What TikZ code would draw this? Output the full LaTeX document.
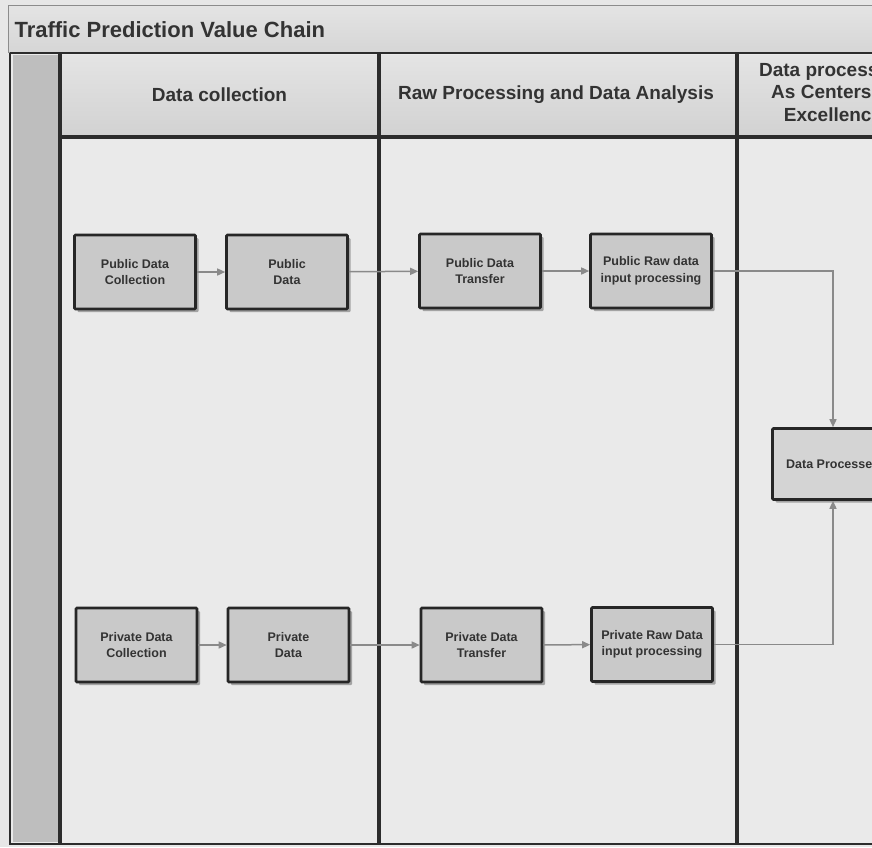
\documentclass[tikz,border=0pt]{standalone}
\usepackage{fontspec}
\setmainfont{Liberation Sans}
\usetikzlibrary{arrows.meta,shadows}

\definecolor{paper}{HTML}{E7E7E7}
\definecolor{lanebody}{HTML}{EAEAEA}
\definecolor{headtop}{HTML}{E4E4E4}
\definecolor{headbot}{HTML}{D2D2D2}
\definecolor{strip}{HTML}{BEBEBE}
\definecolor{rule}{HTML}{2C2C2C}
\definecolor{boxfill}{HTML}{C9C9C9}
\definecolor{boxline}{HTML}{262626}
\definecolor{flow}{HTML}{8A8A8A}
\definecolor{txt}{HTML}{333333}

\tikzset{
  stepbox/.style={draw=boxline, line width=2.6pt, fill=boxfill,
    minimum width=121pt, minimum height=74pt, inner sep=2pt,
    rounded corners=1pt, align=center, text=txt,
    font=\fontsize{12.5}{16.5}\selectfont\bfseries,
    drop shadow={shadow xshift=3pt, shadow yshift=-3pt, opacity=0.3, fill=black}},
  flowline/.style={draw=flow, line width=1.5pt,
    -{Triangle[length=8pt,width=7pt,fill=flow]}},
  laneline/.style={draw=rule, line width=3.5pt},
  headtext/.style={text=txt, align=center,
    font=\fontsize{19}{22.5}\selectfont\bfseries}
}

\begin{document}
\begin{tikzpicture}[x=1pt,y=-1pt]
\useasboundingbox (0,0) rectangle (872,847);
\clip (0,0) rectangle (872,847);
\fill[paper] (0,0) rectangle (872,847);

% pool title bar
\shade[top color=headtop, bottom color=headbot!80!headtop, draw=black!45, line width=1pt]
  (8,5) rectangle (890,52);
\node[anchor=west, text=txt, font=\fontsize{22}{26}\selectfont\bfseries] (title) at (11,30)
  {Traffic Prediction Value Chain};

% pool body and lane strip
\fill[lanebody] (10,53) rectangle (890,844);
\fill[strip] (13,55) rectangle (58,842);
\draw[rule, line width=2pt] (10,53) -- (10,844) -- (890,844);
\draw[rule, line width=2pt] (10,53) -- (890,53);

% phase headers
\shade[top color=headtop, bottom color=headbot] (62,55) rectangle (377,135);
\shade[top color=headtop, bottom color=headbot] (381,55) rectangle (735,135);
\shade[top color=headtop, bottom color=headbot] (739,55) rectangle (890,135);

\node[headtext] (h1) at (219.5,95) {Data collection};
\node[headtext] (h2) at (556,95) {Raw Processing and Data Analysis};
\node[headtext] (h3) at (833,92) {Data processing\\As Centers of\\Excellence};

% lane separators
\draw[laneline] (60,53) -- (60,844);
\draw[laneline] (379,53) -- (379,844);
\draw[laneline] (737,53) -- (737,844);
\draw[laneline] (58,137) -- (890,137);

% public chain
\node[stepbox] (pdc) at (135,272) {Public Data\\Collection};
\node[stepbox] (pd) at (287,272) {Public\\Data};
\node[stepbox] (pdt) at (480,271) {Public Data\\Transfer};
\node[stepbox] (praw) at (651,271) {Public Raw data\\input processing};

% private chain
\node[stepbox] (vdc) at (136.5,645) {Private Data\\Collection};
\node[stepbox] (vd) at (288.5,645) {Private\\Data};
\node[stepbox] (vdt) at (481.5,645) {Private Data\\Transfer};
\node[stepbox] (vraw) at (652,644.5) {Private Raw Data\\input processing};

% processed data
\node[stepbox, fill=black!17, minimum height=71pt] (dp) at (833,464) {Data Processed};

% flows
\draw[flowline] (pdc) -- (pd);
\draw[flowline] (pd) -- (pdt);
\draw[flowline] (pdt) -- (praw);
\draw[flowline] (praw.east) -| (dp.north);
\draw[flowline] (vdc) -- (vd);
\draw[flowline] (vd) -- (vdt);
\draw[flowline] (vdt) -- (vraw);
\draw[flowline] (vraw.east) -| (dp.south);
\end{tikzpicture}
\end{document}
